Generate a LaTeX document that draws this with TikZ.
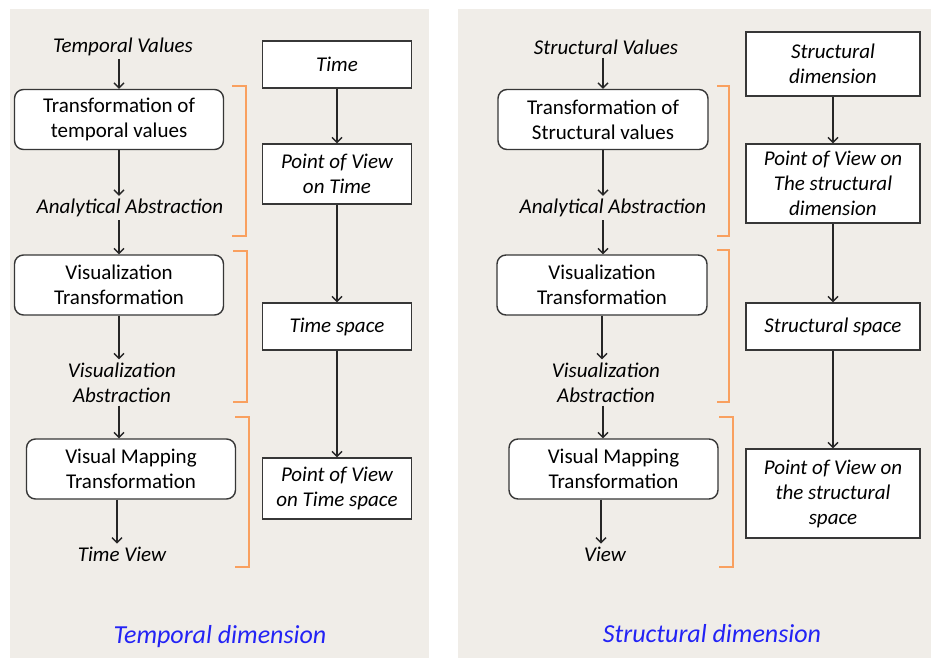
\documentclass[tikz,border=0pt]{standalone}
\usepackage{fontspec}
\setmainfont{Carlito}
\usetikzlibrary{arrows.meta}
\definecolor{panelbg}{RGB}{240,237,232}
\definecolor{brk}{RGB}{249,160,95}
\definecolor{boxline}{RGB}{55,55,55}
\definecolor{titleblue}{RGB}{35,35,245}
\tikzset{
  rbox/.style={draw=boxline, line width=1.4pt, rounded corners=9pt, fill=white,
    minimum width=209pt, minimum height=60pt, align=center, inner sep=2pt,
    font=\fontsize{21}{25}\selectfont},
  sbox/.style={draw=boxline, line width=1.4pt, fill=white, align=center, inner sep=2pt,
    font=\fontsize{21}{25}\selectfont\itshape},
  lbl/.style={align=center, inner sep=3pt, yshift=-2pt, font=\fontsize{21}{25}\selectfont\itshape},
  ttl/.style={inner sep=0pt, yshift=-3pt, text=titleblue, font=\fontsize{26}{30}\selectfont\itshape},
  arr/.style={line width=1.4pt, draw=black!85, -{Straight Barb[length=5pt,width=10pt,line width=1.4pt]}},
  bracket/.style={draw=brk, line width=2.3pt}
}
\begin{document}
\begin{tikzpicture}[x=1pt,y=-1pt]
\useasboundingbox (0,0) rectangle (931,658);
\fill[white] (0,0) rectangle (931,658);
\fill[panelbg] (10,9) rectangle (429,658);
\fill[panelbg] (458,9) rectangle (931,658);

% ---------- Left panel ----------
\node[lbl] (tv) at (123,45) {Temporal Values};
\node[rbox] (t1) at (119,119.5) {Transformation of\\temporal values};
\node[lbl] (aa1) at (130,206) {Analytical Abstraction};
\node[rbox] (v1) at (119,285) {Visualization\\Transformation};
\node[lbl] (va1) at (122,380.5) {Visualization\\Abstraction};
\node[rbox] (m1) at (131,469) {Visual Mapping\\Transformation};
\node[lbl] (tvw) at (122,552) {Time View};
\node[ttl] (td) at (220,634) {Temporal dimension};

\node[sbox, minimum width=149pt, minimum height=47pt] (time) at (337,64.5) {Time};
\node[sbox, minimum width=149pt, minimum height=60pt] (pvt) at (337,174) {Point of View\\on Time};
\node[sbox, minimum width=149pt, minimum height=47pt] (tsp) at (337,326.5) {Time space};
\node[sbox, minimum width=149pt, minimum height=61pt] (pvts) at (337,488.5) {Point of View\\on Time space};

\draw[arr] (tv.south -| t1.north) -- (t1.north);
\draw[arr] (t1.south) -- (t1.south |- aa1.north);
\draw[arr] (aa1.south -| v1.north) -- (v1.north);
\draw[arr] (v1.south) -- (v1.south |- va1.north);
\draw[arr] ([xshift=-3pt]va1.south) -- ([xshift=-3pt]va1.south |- m1.north);
\draw[arr] ([xshift=-5pt]tvw.north |- m1.south) -- ([xshift=-5pt]tvw.north);

\draw[arr] (time.south) -- (pvt.north);
\draw[arr] (pvt.south) -- (tsp.north);
\draw[arr] (tsp.south) -- (pvts.north);

\draw[bracket] (232,86) -- (246,86) -- (246,236) -- (232,236);
\draw[bracket] (233,251) -- (247,251) -- (247,402) -- (233,402);
\draw[bracket] (235,417) -- (249,417) -- (249,567) -- (235,567);

% ---------- Right panel ----------
\node[lbl] (sv) at (606,45) {Structural Values};
\node[rbox, minimum width=210pt] (t2) at (603,119.5) {Transformation of\\Structural values};
\node[lbl] (aa2) at (613,206) {Analytical Abstraction};
\node[rbox, minimum width=210pt] (v2) at (602,285) {Visualization\\Transformation};
\node[lbl] (va2) at (606,380.5) {Visualization\\Abstraction};
\node[rbox] (m2) at (613.5,469) {Visual Mapping\\Transformation};
\node[lbl] (vw) at (605,552) {View};
\node[ttl] (sd) at (712,631) {Structural dimension};

\node[sbox, minimum width=174pt, minimum height=64pt] (sdb) at (833,64) {Structural\\dimension};
\node[sbox, minimum width=174pt, minimum height=79pt] (pvs) at (833,183.5) {Point of View on\\The structural\\dimension};
\node[sbox, minimum width=174pt, minimum height=47pt] (ssp) at (833,326.5) {Structural space};
\node[sbox, minimum width=174pt, minimum height=89pt] (pvss) at (833,493.5) {Point of View on\\the structural\\space};

\draw[arr] (sv.south -| t2.north) -- (t2.north);
\draw[arr] (t2.south) -- (t2.south |- aa2.north);
\draw[arr] (aa2.south -| t2.south) -- (t2.south |- v2.north);
\draw[arr] (v2.south) -- (v2.south |- va2.north);
\draw[arr] ([xshift=-3pt]va2.south) -- ([xshift=-3pt]va2.south |- m2.north);
\draw[arr] ([xshift=-4pt]vw.north |- m2.south) -- ([xshift=-4pt]vw.north);

\draw[arr] (sdb.south) -- (pvs.north);
\draw[arr] (pvs.south) -- (ssp.north);
\draw[arr] (ssp.south) -- (pvss.north);

\draw[bracket] (717,86) -- (729,86) -- (729,236) -- (717,236);
\draw[bracket] (717,250) -- (729,250) -- (729,402) -- (717,402);
\draw[bracket] (719,417) -- (733,417) -- (733,567) -- (719,567);
\end{tikzpicture}
\end{document}
